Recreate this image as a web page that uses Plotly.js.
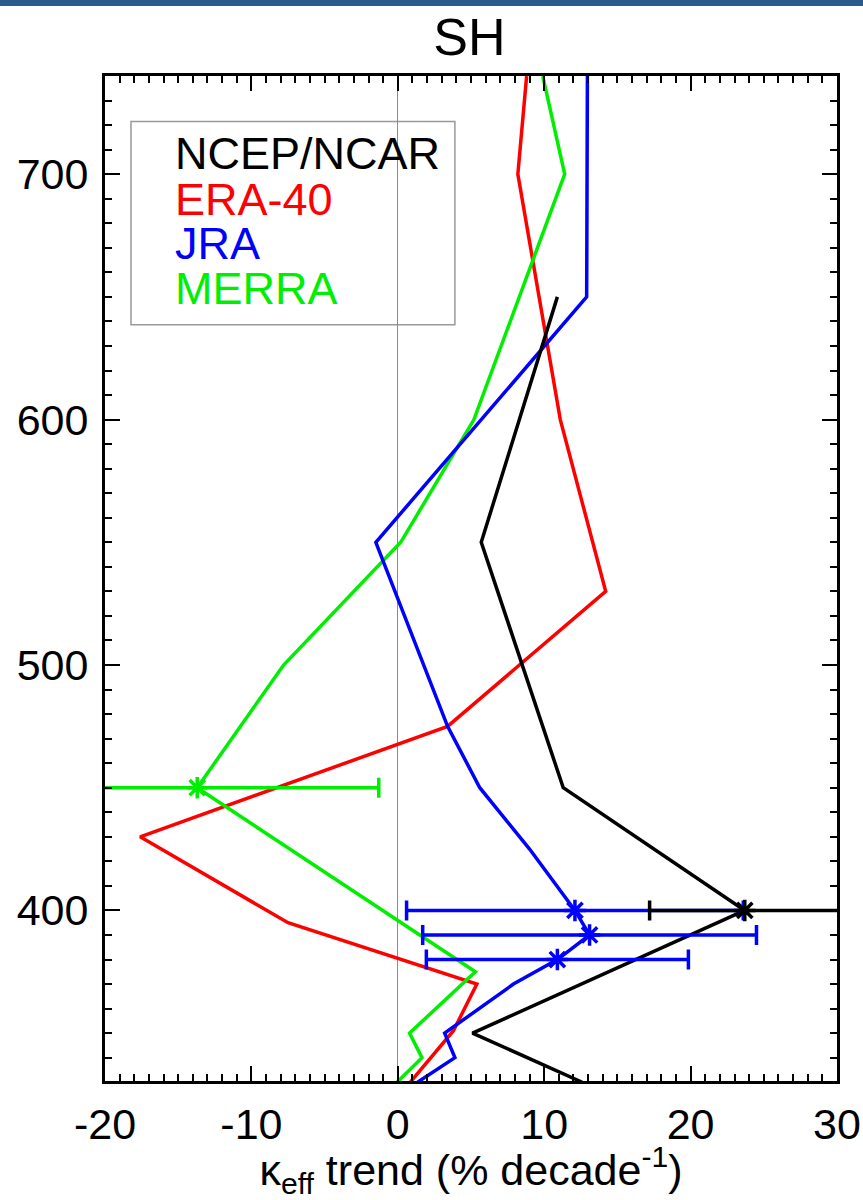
<!DOCTYPE html>
<html>
<head>
<meta charset="utf-8">
<script src="https://cdn.plot.ly/plotly-3.0.1.min.js"></script>
<style>
  html, body { margin: 0; padding: 0; background: #fff; }
  #topbar { position: absolute; left: 0; top: 0; width: 863px; height: 6px; background: #2a5b8c; z-index: 10; }
  #chart { width: 863px; height: 1200px; }
</style>
</head>
<body>
<div id="topbar"></div>
<div id="chart"></div>
<script>
// ---- data (pressure levels in hPa, trends in % per decade) ----
const ncepLevels  = [650, 550, 450, 400, 350, 330];
const ncepTrend   = [10.9, 5.7, 11.3, 23.7, 5.1, 12.6];

const eraLevels   = [740, 700, 600, 530, 475, 430, 395, 370, 351, 330];
const eraTrend    = [8.8, 8.2, 11.1, 14.2, 3.4, -17.6, -7.5, 5.4, 3.8, 0.85];

const jraLevels   = [740, 650, 550, 475, 450, 425, 400, 390, 380, 370, 350, 340, 330];
const jraTrend    = [12.95, 12.9, -1.5, 3.4, 5.6, 9.0, 12.1, 13.1, 10.9, 7.9, 3.2, 3.9, 1.35];

const merraLevels = [740, 700, 600, 550, 500, 450, 375, 350, 340, 330];
const merraTrend  = [9.9, 11.4, 5.2, 0.2, -7.8, -13.7, 5.3, 0.8, 1.65, -0.05];

// points with uncertainty bars
const ncepErrLevels  = [400];
const ncepErrTrend   = [23.7];
const ncepErr        = [6.5];

const jraErrLevels   = [400, 390, 380];
const jraErrTrend    = [12.1, 13.1, 10.9];
const jraErr         = [11.5, 11.4, 8.95];

const merraErrLevels = [450];
const merraErrTrend  = [-13.7];
const merraErr       = [12.4];

const seriesNames  = ['NCEP/NCAR', 'ERA-40', 'JRA', 'MERRA'];
const seriesColors = ['#000000', '#ff0000', '#0000ff', '#00ee00'];

const xTickVals = [-20, -10, 0, 10, 20, 30];
const yTickVals = [400, 500, 600, 700];

const FONT = 'Liberation Sans, Arial, Helvetica, sans-serif';

function lineTrace(x, y, color) {
  return { x: x, y: y, type: 'scatter', mode: 'lines',
           line: { color: color, width: 3.5 }, showlegend: false, hoverinfo: 'skip' };
}
function errTrace(x, y, e, color) {
  return { x: x, y: y, type: 'scatter', mode: 'markers',
           marker: { symbol: 'asterisk-open', size: 18, color: color, line: { color: color, width: 3.5 } },
           error_x: { type: 'data', array: e, visible: true, color: color, thickness: 3.5, width: 10 },
           showlegend: false, hoverinfo: 'skip' };
}

const data = [
  lineTrace(eraTrend, eraLevels, seriesColors[1]),
  lineTrace(merraTrend, merraLevels, seriesColors[3]),
  lineTrace(jraTrend, jraLevels, seriesColors[2]),
  lineTrace(ncepTrend, ncepLevels, seriesColors[0]),
  errTrace(merraErrTrend, merraErrLevels, merraErr, seriesColors[3]),
  errTrace(jraErrTrend, jraErrLevels, jraErr, seriesColors[2]),
  errTrace(ncepErrTrend, ncepErrLevels, ncepErr, seriesColors[0])
];

const legendY = [0.9228, 0.877, 0.8333, 0.7885];
const annotations = seriesNames.map((n, i) => ({
  text: n, xref: 'paper', yref: 'paper', x: 0.093, y: legendY[i],
  xanchor: 'left', yanchor: 'middle', showarrow: false,
  font: { family: FONT, size: 45, color: seriesColors[i] }
}));

const axisCommon = {
  showline: true, linecolor: '#000', linewidth: 3, mirror: 'allticks',
  ticks: 'inside', ticklen: 15, tickwidth: 2, tickcolor: '#000',
  showgrid: false, tickfont: { family: FONT, size: 43, color: '#000' }
};

const layout = {
  width: 863, height: 1200,
  margin: { l: 105, r: 26, t: 76, b: 119, pad: 0 },
  paper_bgcolor: '#fff', plot_bgcolor: '#fff',
  title: { text: 'SH', font: { family: FONT, size: 52, color: '#000' },
           x: 0.544, xanchor: 'center', y: 0.969, yanchor: 'middle' },
  xaxis: Object.assign({}, axisCommon, {
    range: [-20, 30], tickvals: xTickVals, ticktext: xTickVals.map(String),
    zeroline: true, zerolinecolor: '#8c8c8c', zerolinewidth: 1,
    minor: { dtick: 1, tick0: 0, ticks: 'inside', ticklen: 7, tickwidth: 2, tickcolor: '#000' },
    ticklabelstandoff: 3,
    title: { text: 'κ<sub>eff</sub> trend (% decade<sup>-1</sup>)',
             font: { family: FONT, size: 43, color: '#000' }, standoff: 10 }
  }),
  yaxis: Object.assign({}, axisCommon, {
    range: [330.5, 740], tickvals: yTickVals, ticktext: yTickVals.map(String),
    zeroline: false,
    minor: { dtick: 10, tick0: 0, ticks: 'inside', ticklen: 7, tickwidth: 2, tickcolor: '#000' },
    ticklabelstandoff: 5
  }),
  shapes: [{
    type: 'rect', xref: 'paper', yref: 'paper',
    x0: 0.0355, x1: 0.478, y0: 0.7526, y1: 0.9547,
    line: { color: '#999', width: 1.5 }, fillcolor: 'rgba(255,255,255,0)', layer: 'below'
  }],
  annotations: annotations,
  showlegend: false
};

Plotly.newPlot('chart', data, layout, { displayModeBar: false, staticPlot: true });
</script>
</body>
</html>
